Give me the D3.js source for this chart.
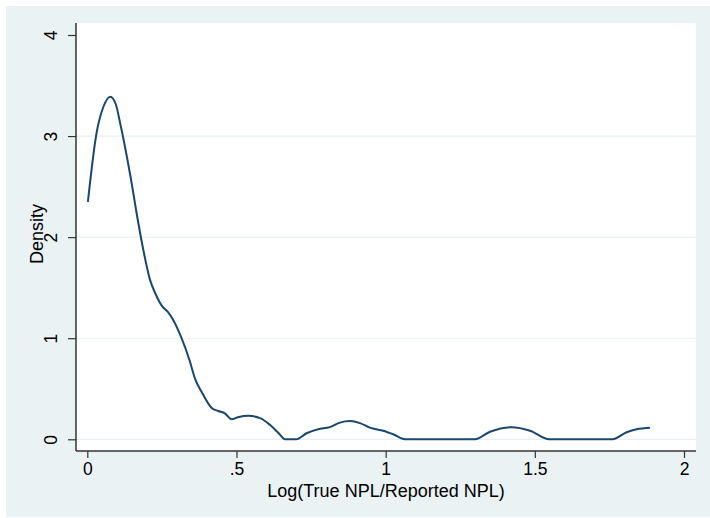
<!DOCTYPE html>
<html>
<head>
<meta charset="utf-8">
<script src="https://cdn.jsdelivr.net/npm/d3@7"></script>
<style>
  html, body { margin: 0; padding: 0; background: #ffffff; }
  svg { display: block; }
  text { font-family: "Liberation Sans", Arial, Helvetica, sans-serif; fill: #000; }
</style>
</head>
<body>
<svg id="chart" width="710" height="518"></svg>
<script>
// Kernel density estimate of Log(True NPL/Reported NPL)
const gridX = [0.002, 0.031, 0.054, 0.077, 0.095, 0.110, 0.143, 0.171, 0.188, 0.210,
  0.230, 0.250, 0.270, 0.288, 0.316, 0.344, 0.361, 0.383, 0.417, 0.439,
  0.461, 0.484, 0.505, 0.540, 0.579, 0.612, 0.640, 0.663, 0.700, 0.735,
  0.774, 0.813, 0.847, 0.880, 0.914, 0.947, 0.992, 1.025, 1.065, 1.299,
  1.350, 1.422, 1.484, 1.548, 1.760, 1.808, 1.841, 1.886];
const density = [2.35, 3.03, 3.29, 3.39, 3.32, 3.13, 2.63, 2.14, 1.87, 1.58,
  1.43, 1.32, 1.26, 1.18, 1.00, 0.77, 0.60, 0.47, 0.31, 0.28,
  0.257, 0.198, 0.218, 0.232, 0.21, 0.143, 0.065, 0.0, 0.0, 0.06,
  0.10, 0.12, 0.165, 0.18, 0.16, 0.115, 0.085, 0.05, 0.0, 0.0,
  0.075, 0.12, 0.085, 0.0, 0.0, 0.07, 0.10, 0.115];

const xTicks = [0, 0.5, 1, 1.5, 2];
const xTickLabels = ["0", ".5", "1", "1.5", "2"];
const yTicks = [0, 1, 2, 3, 4];
const yTickLabels = ["0", "1", "2", "3", "4"];
const xTitle = "Log(True NPL/Reported NPL)";
const yTitle = "Density";

const svg = d3.select("#chart");

// graph region and plot region
const outer = { x0: 6, y0: 6, x1: 710, y1: 517 };
const plot = { x0: 76, y0: 23, x1: 696, y1: 451 };

const x = d3.scaleLinear().domain([0, 2]).range([87.3, 684]);
const y = d3.scaleLinear().domain([0, 4]).range([439.3, 35]);

svg.append("rect")
  .attr("x", outer.x0).attr("y", outer.y0)
  .attr("width", outer.x1 - outer.x0).attr("height", outer.y1 - outer.y0)
  .attr("fill", "#eaf2f3");

svg.append("rect")
  .attr("x", plot.x0).attr("y", plot.y0)
  .attr("width", plot.x1 - plot.x0).attr("height", plot.y1 - plot.y0)
  .attr("fill", "#ffffff");

// horizontal grid lines
svg.append("g")
  .selectAll("line")
  .data(yTicks.filter(d => d < 4))
  .join("line")
  .attr("x1", plot.x0).attr("x2", plot.x1)
  .attr("y1", d => y(d)).attr("y2", d => y(d))
  .attr("stroke", "#e6eff1")
  .attr("stroke-width", 1.2);

// density curve
const line = d3.line()
  .x((d, i) => x(gridX[i]))
  .y(d => y(d))
  .curve(d3.curveMonotoneX);

svg.append("path")
  .datum(density)
  .attr("d", line)
  .attr("fill", "none")
  .attr("stroke", "#1a476f")
  .attr("stroke-width", 2)
  .attr("stroke-linejoin", "round");

// y axis
const yAxis = d3.axisLeft(y)
  .tickValues(yTicks)
  .tickFormat((d, i) => yTickLabels[i])
  .tickSize(8)
  .tickSizeOuter(0);

const gy = svg.append("g")
  .attr("transform", `translate(${plot.x0},0)`)
  .call(yAxis);
gy.select(".domain").remove();
gy.selectAll(".tick line").attr("stroke", "#333").attr("stroke-width", 1.2);
gy.selectAll(".tick text")
  .attr("transform", "rotate(-90)")
  .attr("x", 0)
  .attr("y", -19)
  .attr("dy", 0)
  .attr("text-anchor", "middle")
  .style("font-size", "17.5px")
  .style("font-family", "'Liberation Sans', Arial, sans-serif")
  .attr("fill", "#000");

// x axis
const xAxis = d3.axisBottom(x)
  .tickValues(xTicks)
  .tickFormat((d, i) => xTickLabels[i])
  .tickSize(7)
  .tickSizeOuter(0);

const gx = svg.append("g")
  .attr("transform", `translate(0,${plot.y1})`)
  .call(xAxis);
gx.select(".domain").remove();
gx.selectAll(".tick line").attr("stroke", "#333").attr("stroke-width", 1.2);
gx.selectAll(".tick text")
  .attr("y", 24)
  .attr("dy", 0)
  .style("font-size", "17.5px")
  .style("font-family", "'Liberation Sans', Arial, sans-serif")
  .attr("fill", "#000");

// axis lines
svg.append("line")
  .attr("x1", plot.x0).attr("x2", plot.x0)
  .attr("y1", plot.y0).attr("y2", plot.y1)
  .attr("stroke", "#333").attr("stroke-width", 1.5);
svg.append("line")
  .attr("x1", plot.x0).attr("x2", plot.x1)
  .attr("y1", plot.y1).attr("y2", plot.y1)
  .attr("stroke", "#333").attr("stroke-width", 1.5);

// axis titles
svg.append("text")
  .attr("x", (plot.x0 + plot.x1) / 2)
  .attr("y", 497)
  .attr("text-anchor", "middle")
  .style("font-size", "18px")
  .text(xTitle);

svg.append("text")
  .attr("transform", `translate(43,${(plot.y0 + plot.y1) / 2 - 3}) rotate(-90)`)
  .attr("text-anchor", "middle")
  .style("font-size", "18px")
  .text(yTitle);
</script>
</body>
</html>
